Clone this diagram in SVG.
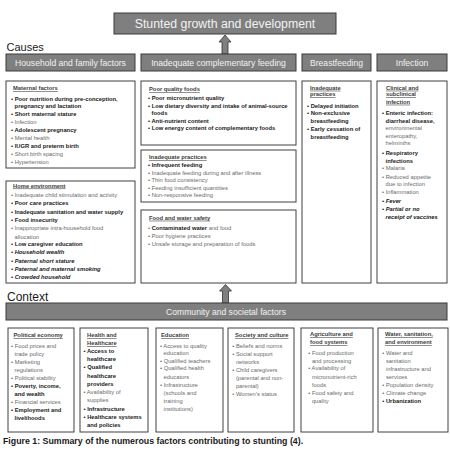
<svg xmlns="http://www.w3.org/2000/svg" width="450" height="450" viewBox="0 0 450 450">
<style>
.bx{fill:#fff;stroke:#404040;stroke-width:1}
.hb{fill:#7f7f7f;stroke:#3a3a3a;stroke-width:1}
.ar{fill:#7f7f7f;stroke:#333;stroke-width:0.8}
text{font-family:"Liberation Sans",Arial,sans-serif}
.t{font-size:5.8px}
.r{fill:#6a6a6a}
.k{fill:#1a1a1a;font-weight:bold}
.i{fill:#1a1a1a;font-weight:bold;font-style:italic}
.hd{fill:#404040;font-weight:bold;text-decoration:underline}
.hl{fill:#f2f2f2;font-size:8.6px}
.sec{fill:#1a1a1a}
</style>
<rect width="450" height="450" fill="#fff"/>

<g id="title">
<rect class="hb" x="114" y="13" width="222" height="21"/>
<text x="225" y="28.2" text-anchor="middle" fill="#f2f2f2" font-size="12.3">Stunted growth and development</text>
</g>

<g id="connectors">
<polygon class="ar" points="225,35 231,42 228,42 228,54 222,54 222,42 219,42"/>
<polygon class="ar" points="225.5,284.5 231.5,291 228.5,291 228.5,303 222.5,303 222.5,291 219.5,291"/>
</g>

<text class="sec" x="6.5" y="51" font-size="11">Causes</text>
<text class="sec" x="7" y="300.5" font-size="12">Context</text>

<g id="h-household"><rect class="hb" x="6" y="54" width="129" height="17"/><text class="hl" x="70.5" y="65.5" text-anchor="middle">Household and family factors</text></g>
<g id="h-complementary"><rect class="hb" x="141" y="54" width="155" height="17"/><text class="hl" x="218.5" y="65.5" text-anchor="middle">Inadequate complementary feeding</text></g>
<g id="h-breastfeeding"><rect class="hb" x="302" y="54" width="69" height="17"/><text class="hl" x="336.5" y="65.5" text-anchor="middle">Breastfeeding</text></g>
<g id="h-infection"><rect class="hb" x="377" y="54" width="70" height="17"/><text class="hl" x="412" y="65.5" text-anchor="middle">Infection</text></g>

<g id="maternal" class="t">
<rect class="bx" x="6" y="81" width="129" height="87"/>
<text class="hd" x="13" y="90.3">Maternal factors</text>
<text class="k" x="11" y="101">• Poor nutrition during pre-conception,</text>
<text class="k" x="14.6" y="108">pregnancy and lactation</text>
<text class="k" x="11" y="116">• Short maternal stature</text>
<text class="r" x="11" y="124">• Infection</text>
<text class="k" x="11" y="132">• Adolescent pregnancy</text>
<text class="r" x="11" y="140">• Mental health</text>
<text class="k" x="11" y="148">• IUGR and preterm birth</text>
<text class="r" x="11" y="156">• Short birth spacing</text>
<text class="r" x="11" y="164">• Hypertension</text>
</g>

<g id="home" class="t">
<rect class="bx" x="6" y="181" width="129" height="102"/>
<text class="hd" x="13" y="187.5">Home environment</text>
<text class="r" x="11" y="197">• Inadequate child stimulation and activity</text>
<text class="k" x="11" y="205.3">• Poor care practices</text>
<text class="k" x="11" y="213.7">• Inadequate sanitation and water supply</text>
<text class="k" x="11" y="222">• Food insecurity</text>
<text class="r" x="11" y="230.3">• Inappropriate intra-household food</text>
<text class="r" x="14.6" y="238.7">allocation</text>
<text class="k" x="11" y="246.3">• Low caregiver education</text>
<text class="i" x="11" y="254.3">• Household wealth</text>
<text class="i" x="11" y="262.7">• Paternal short stature</text>
<text class="i" x="11" y="271">• Paternal and maternal smoking</text>
<text class="i" x="11" y="279">• Crowded household</text>
</g>

<g id="poorfoods" class="t">
<rect class="bx" x="141" y="81" width="155" height="64"/>
<text class="hd" x="149" y="91">Poor quality foods</text>
<text class="k" x="148" y="100">• Poor micronutrient quality</text>
<text class="k" x="148" y="107.5">• Low dietary diversity and intake of animal-source</text>
<text class="k" x="151.6" y="115">foods</text>
<text class="k" x="148" y="122.5">• Anti-nutrient content</text>
<text class="k" x="148" y="130">• Low energy content of complementary foods</text>
</g>

<g id="practices" class="t">
<rect class="bx" x="141" y="150" width="155" height="52"/>
<text class="hd" x="149" y="159">Inadequate practices</text>
<text class="k" x="148" y="167">• Infrequent feeding</text>
<text class="r" x="148" y="174.5">• Inadequate feeding during and after illness</text>
<text class="r" x="148" y="182">• Thin food consistency</text>
<text class="r" x="148" y="189.5">• Feeding insufficient quantities</text>
<text class="r" x="148" y="197">• Non-responsive feeding</text>
</g>

<g id="foodwater" class="t">
<rect class="bx" x="141" y="210" width="155" height="73"/>
<text class="hd" x="149" y="219.7">Food and water safety</text>
<text class="r" x="148" y="230.3">• <tspan class="k">Contaminated water</tspan> and food</text>
<text class="r" x="148" y="238">• Poor hygiene practices</text>
<text class="r" x="148" y="245.7">• Unsafe storage and preparation of foods</text>
</g>

<g id="breast" class="t">
<rect class="bx" x="302" y="81" width="69" height="202"/>
<text class="hd" x="310" y="89.7">Inadequate</text>
<text class="hd" x="310" y="96.3">practices</text>
<text class="k" x="307" y="107.7">• Delayed initiation</text>
<text class="k" x="307" y="115.3">• Non-exclusive</text>
<text class="k" x="310.6" y="123">breastfeeding</text>
<text class="k" x="307" y="131">• Early cessation of</text>
<text class="k" x="310.6" y="138.7">breastfeeding</text>
</g>

<g id="infection" class="t">
<rect class="bx" x="377" y="81" width="70" height="202"/>
<text class="hd" x="386" y="89.7">Clinical and</text>
<text class="hd" x="386" y="96.3">subclinical</text>
<text class="hd" x="386" y="103.7">infection</text>
<text class="k" x="382" y="115.3">• Enteric infection:</text>
<text class="k" x="385.6" y="123">diarrheal disease,</text>
<text class="r" x="385.6" y="130.3">environmental</text>
<text class="r" x="385.6" y="138">enteropathy,</text>
<text class="r" x="385.6" y="145.3">helminths</text>
<text class="k" x="382" y="154.7">• Respiratory</text>
<text class="k" x="385.6" y="162.7">infections</text>
<text class="r" x="382" y="170.3">• Malaria</text>
<text class="r" x="382" y="178.7">• Reduced appetite</text>
<text class="r" x="385.6" y="186">due to infection</text>
<text class="r" x="382" y="194.3">• Inflammation</text>
<text class="i" x="382" y="202.7">• Fever</text>
<text class="i" x="382" y="211">• Partial or no</text>
<text class="i" x="385.6" y="218.7">receipt of vaccines</text>
</g>

<g id="community"><rect class="hb" x="6" y="303" width="441" height="17"/><text class="hl" x="226" y="314.6" text-anchor="middle">Community and societal factors</text></g>

<g id="political" class="t">
<rect class="bx" x="8" y="328" width="66" height="104"/>
<text class="hd" x="13.5" y="337">Political economy</text>
<text class="r" x="11" y="347.5">• Food prices and</text>
<text class="r" x="14.6" y="355.5">trade policy</text>
<text class="r" x="11" y="363.5">• Marketing</text>
<text class="r" x="14.6" y="371.5">regulations</text>
<text class="r" x="11" y="379.5">• Political stability</text>
<text class="k" x="11" y="387.5">• Poverty, income,</text>
<text class="k" x="14.6" y="395.5">and wealth</text>
<text class="r" x="11" y="403.5">• Financial services</text>
<text class="k" x="11" y="411.5">• Employment and</text>
<text class="k" x="14.6" y="419.5">livelihoods</text>
</g>

<g id="health" class="t">
<rect class="bx" x="80" y="328" width="68" height="104"/>
<text class="hd" x="87" y="337">Health and</text>
<text class="hd" x="87" y="345">Healthcare</text>
<text class="k" x="83.5" y="353">• Access to</text>
<text class="k" x="87.1" y="361">healthcare</text>
<text class="k" x="83.5" y="369.3">• Qualified</text>
<text class="k" x="87.1" y="377.5">healthcare</text>
<text class="k" x="87.1" y="385.5">providers</text>
<text class="r" x="83.5" y="394">• Availability of</text>
<text class="r" x="87.1" y="402">supplies</text>
<text class="k" x="83.5" y="410.5">• Infrastructure</text>
<text class="k" x="83.5" y="418.5">• Healthcare systems</text>
<text class="k" x="87.1" y="426.5">and policies</text>
</g>

<g id="education" class="t">
<rect class="bx" x="156" y="328" width="67" height="104"/>
<text class="hd" x="161" y="337">Education</text>
<text class="r" x="160" y="347.7">• Access to quality</text>
<text class="r" x="163.6" y="355.3">education</text>
<text class="r" x="160" y="363">• Qualified teachers</text>
<text class="r" x="160" y="370.3">• Qualified health</text>
<text class="r" x="163.6" y="378.7">educators</text>
<text class="r" x="160" y="387">• Infrastructure</text>
<text class="r" x="163.6" y="395.3">(schools and</text>
<text class="r" x="163.6" y="403">training</text>
<text class="r" x="163.6" y="411">institutions)</text>
</g>

<g id="society" class="t">
<rect class="bx" x="228" y="328" width="66" height="104"/>
<text class="hd" x="235" y="337">Society and culture</text>
<text class="r" x="232.3" y="347.5">• Beliefs and norms</text>
<text class="r" x="232.3" y="355.5">• Social support</text>
<text class="r" x="235.9" y="363.5">networks</text>
<text class="r" x="232.3" y="371.5">• Child caregivers</text>
<text class="r" x="235.9" y="379.5">(parental and non-</text>
<text class="r" x="235.9" y="387.5">parental)</text>
<text class="r" x="232.3" y="395.5">• Women’s status</text>
</g>

<g id="agriculture" class="t">
<rect class="bx" x="301" y="328" width="72" height="104"/>
<text class="hd" x="310" y="336.3">Agriculture and</text>
<text class="hd" x="310" y="344.3">food systems</text>
<text class="r" x="308.3" y="355.3">• Food production</text>
<text class="r" x="311.9" y="362.7">and processing</text>
<text class="r" x="308.3" y="370.3">• Availability of</text>
<text class="r" x="311.9" y="378.7">micronutrient-rich</text>
<text class="r" x="311.9" y="387">foods</text>
<text class="r" x="308.3" y="395.3">• Food safety and</text>
<text class="r" x="311.9" y="403">quality</text>
</g>

<g id="water" class="t">
<rect class="bx" x="378" y="328" width="70" height="104"/>
<text class="hd" x="385" y="336.3">Water, sanitation,</text>
<text class="hd" x="385" y="344.3">and environment</text>
<text class="r" x="382.3" y="355.3">• Water and</text>
<text class="r" x="385.9" y="363">sanitation</text>
<text class="r" x="385.9" y="370.7">infrastructure and</text>
<text class="r" x="385.9" y="378.7">services</text>
<text class="r" x="382.3" y="387">• Population density</text>
<text class="r" x="382.3" y="395">• Climate change</text>
<text class="k" x="382.3" y="403">• Urbanization</text>
</g>

<text x="3" y="444" font-size="8.8" font-weight="bold" fill="#1a1a1a">Figure 1: Summary of the numerous factors contributing to stunting (4).</text>
</svg>
